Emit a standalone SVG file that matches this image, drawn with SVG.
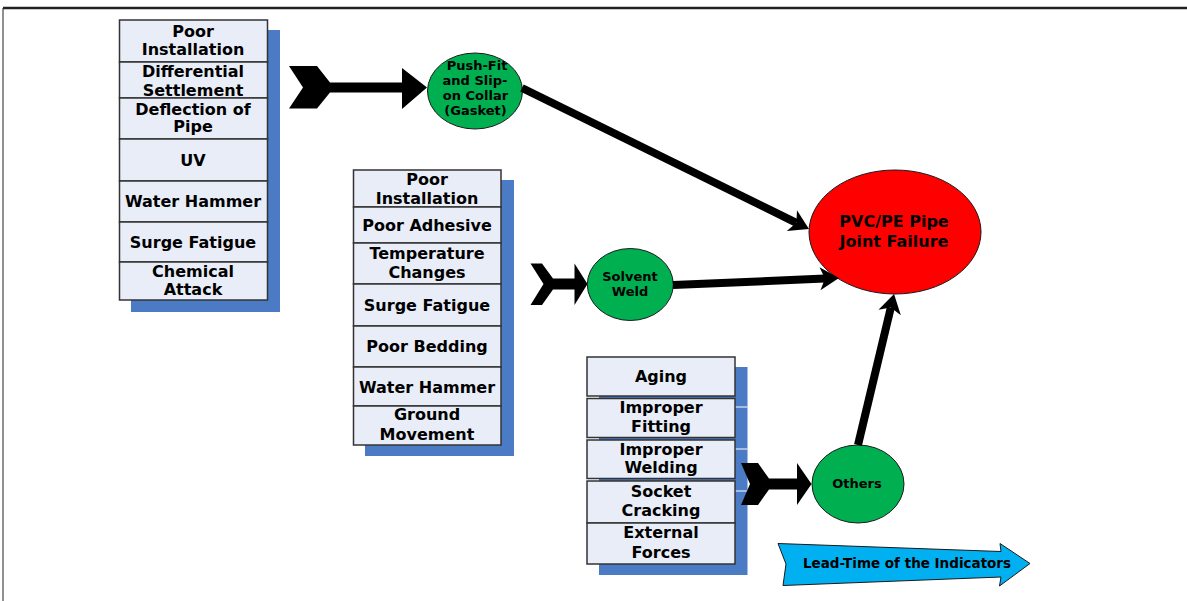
<svg xmlns="http://www.w3.org/2000/svg" width="1187" height="601" viewBox="0 0 1187 601">
  <defs>
    <style>
      .frame { stroke: #222; fill: none; }
      .shadow { fill: #4a7bc4; }
      .cell { fill: #e8edf7; stroke: #333; stroke-width: 1.5; }
      .t { font-family: "DejaVu Sans", Verdana, sans-serif; font-weight: bold; font-size: 16px; fill: #000; text-anchor: middle; }
      .ts { font-family: "DejaVu Sans", Verdana, sans-serif; font-weight: bold; font-size: 13px; fill: #000; text-anchor: middle; }
      .green { fill: #00b050; stroke: #1a1a1a; stroke-width: 1; }
      .red { fill: #ff0000; stroke: #1a1a1a; stroke-width: 1; }
      .chevron { fill: #000; }
      .link { stroke: #000; stroke-width: 8; fill: none; marker-end: url(#head); }
      .lead { fill: #00b0f0; stroke: #1a1a1a; stroke-width: 1; }
    </style>
    <marker id="head" markerUnits="userSpaceOnUse" markerWidth="40" markerHeight="40" viewBox="-20 -20 40 40" refX="0" refY="0" orient="auto" overflow="visible">
      <path d="M14,0 L-5,-11.5 L0,0 L-5,11.5 Z" fill="#000"/>
    </marker>
  </defs>

  <!-- page frame -->
  <line class="frame" x1="3" y1="8" x2="1187" y2="8" stroke-width="2.5"/>
  <line class="frame" x1="3" y1="8" x2="3" y2="601" stroke-width="1"/>

  <!-- causes for push-fit joints -->
  <g id="causes-pushfit">
    <rect class="shadow" x="131" y="30" width="149" height="282"/>
    <rect class="cell" x="119.5" y="20" width="148" height="42"/>
    <rect class="cell" x="119.5" y="62" width="148" height="36"/>
    <rect class="cell" x="119.5" y="98" width="148" height="41"/>
    <rect class="cell" x="119.5" y="139" width="148" height="42"/>
    <rect class="cell" x="119.5" y="181" width="148" height="41"/>
    <rect class="cell" x="119.5" y="222" width="148" height="40"/>
    <rect class="cell" x="119.5" y="262" width="148" height="38"/>
    <text class="t" x="193" y="36.8">Poor</text>
    <text class="t" x="193" y="54.8">Installation</text>
    <text class="t" x="193" y="76.8">Differential</text>
    <text class="t" x="193" y="95.5">Settlement</text>
    <text class="t" x="193" y="115">Deflection of</text>
    <text class="t" x="193" y="132">Pipe</text>
    <text class="t" x="193" y="165.5">UV</text>
    <text class="t" x="193" y="206.8">Water Hammer</text>
    <text class="t" x="193" y="247.8">Surge Fatigue</text>
    <text class="t" x="193" y="276.8">Chemical</text>
    <text class="t" x="193" y="295">Attack</text>
  </g>

  <!-- causes for solvent welds -->
  <g id="causes-solvent">
    <rect class="shadow" x="365" y="180" width="149" height="276"/>
    <rect class="cell" x="353.5" y="170" width="147.5" height="37"/>
    <rect class="cell" x="353.5" y="207" width="147.5" height="36"/>
    <rect class="cell" x="353.5" y="243" width="147.5" height="41"/>
    <rect class="cell" x="353.5" y="284" width="147.5" height="42"/>
    <rect class="cell" x="353.5" y="326" width="147.5" height="41"/>
    <rect class="cell" x="353.5" y="367" width="147.5" height="39"/>
    <rect class="cell" x="353.5" y="406" width="147.5" height="39"/>
    <text class="t" x="427" y="185">Poor</text>
    <text class="t" x="427" y="204">Installation</text>
    <text class="t" x="427" y="230.5">Poor Adhesive</text>
    <text class="t" x="427" y="259.3">Temperature</text>
    <text class="t" x="427" y="278.3">Changes</text>
    <text class="t" x="427" y="310.7">Surge Fatigue</text>
    <text class="t" x="427" y="351.7">Poor Bedding</text>
    <text class="t" x="427" y="393.2">Water Hammer</text>
    <text class="t" x="427" y="420.2">Ground</text>
    <text class="t" x="427" y="440">Movement</text>
  </g>

  <!-- other causes -->
  <g id="causes-others">
    <rect class="shadow" x="599" y="367" width="148.5" height="208"/>
    <line x1="735" y1="407" x2="747.5" y2="407" stroke="#fff" stroke-width="1"/>
    <line x1="735" y1="449" x2="747.5" y2="449" stroke="#fff" stroke-width="1"/>
    <line x1="735" y1="491" x2="747.5" y2="491" stroke="#fff" stroke-width="1"/>
    <rect class="cell" x="587" y="357" width="148" height="39"/>
    <rect class="cell" x="587" y="398.5" width="148" height="39"/>
    <rect class="cell" x="587" y="440" width="148" height="38.5"/>
    <rect class="cell" x="587" y="481" width="148" height="42"/>
    <rect class="cell" x="587" y="523" width="148" height="41"/>
    <text class="t" x="661" y="381.7">Aging</text>
    <text class="t" x="661" y="413.3">Improper</text>
    <text class="t" x="661" y="431.7">Fitting</text>
    <text class="t" x="661" y="455">Improper</text>
    <text class="t" x="661" y="473.3">Welding</text>
    <text class="t" x="661" y="496.7">Socket</text>
    <text class="t" x="661" y="515.7">Cracking</text>
    <text class="t" x="661" y="538.3">External</text>
    <text class="t" x="661" y="558.3">Forces</text>
  </g>

  <!-- chevron feeds from cause lists into joint types -->
  <g id="feeds">
    <path class="chevron" d="M289,66 L317,66 L330,82.5 L402,82.5 L402,68 L427,87.5 L402,109 L402,92.5 L330,92.5 L317,108.5 L289,108.5 L303,87.5 Z"/>
    <path class="chevron" d="M530.5,263.5 L542,263.5 L553,278.5 L574.5,278.5 L574.5,263.5 L587.5,284 L574.5,305 L574.5,289.5 L553,289.5 L542,305 L530.5,305 L543.5,284 Z"/>
    <path class="chevron" d="M741,463 L758,463 L769,478.5 L797,478.5 L797,463 L811.5,484 L797,505 L797,489.5 L769,489.5 L758,505 L741,505 L750,484 Z"/>
  </g>

  <!-- joint types -->
  <g id="pushfit">
    <ellipse class="green" cx="475" cy="91" rx="47.5" ry="38"/>
    <text class="ts" x="477" y="70">Push-Fit</text>
    <text class="ts" x="475" y="85">and Slip-</text>
    <text class="ts" x="475.5" y="100">on Collar</text>
    <text class="ts" x="475.5" y="115">(Gasket)</text>
  </g>
  <g id="solvent">
    <ellipse class="green" cx="630.3" cy="284.5" rx="43" ry="36"/>
    <text class="ts" x="630" y="281">Solvent</text>
    <text class="ts" x="630" y="296">Weld</text>
  </g>
  <g id="others">
    <ellipse class="green" cx="858" cy="484" rx="46" ry="39"/>
    <text class="ts" x="857" y="487.5">Others</text>
  </g>

  <!-- failure outcome -->
  <g id="failure">
    <ellipse class="red" cx="895" cy="232" rx="86" ry="62"/>
    <text class="t" x="894" y="226.7">PVC/PE Pipe</text>
    <text class="t" x="894" y="247.3">Joint Failure</text>
  </g>

  <!-- connectors into the failure node -->
  <g id="connectors">
    <line class="link" x1="522" y1="88" x2="796.4" y2="222.8"/>
    <line class="link" x1="673" y1="285" x2="825" y2="278.6"/>
    <line class="link" x1="858" y1="445" x2="890.8" y2="307.6"/>
  </g>

  <!-- lead-time banner -->
  <g id="lead-time">
    <path class="lead" d="M778,543.5 L1001,551.5 L1000,543.5 L1030,563.5 L999.5,586 L1001,577 L783,585.5 L786,564 Z"/>
    <text class="ts" x="907" y="568.3" style="font-size:13.5px">Lead-Time of the Indicators</text>
  </g>
</svg>
